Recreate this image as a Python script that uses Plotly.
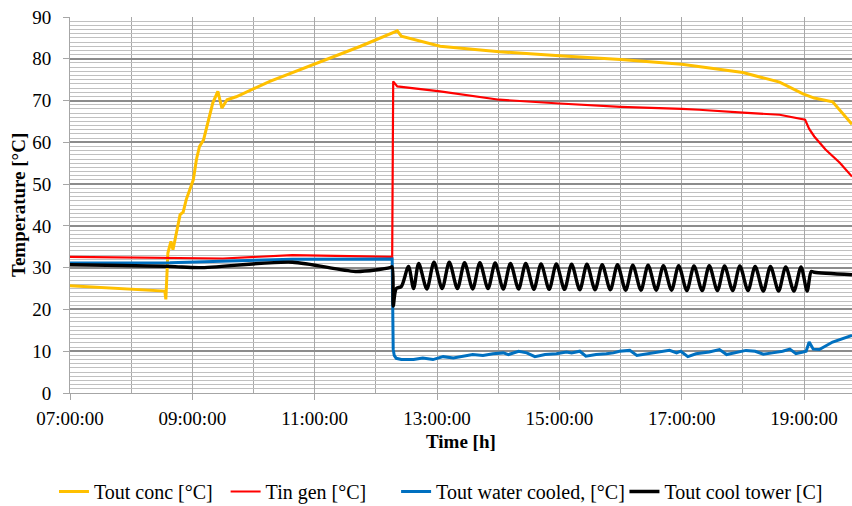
import plotly.graph_objects as go

DAY = "2024-01-01 "

# ---- Tout conc [°C] (yellow)
conc_t = ["07:00", "08:33", "08:34", "08:36", "08:39", "08:41", "08:48", "08:51", "08:54",
          "09:01", "09:04", "09:07", "09:11", "09:16", "09:20", "09:25", "09:29", "09:34",
          "09:43", "10:16", "11:00", "11:45", "12:21", "12:25", "13:03", "14:01", "15:00",
          "16:00", "17:00", "17:17", "18:00", "18:36", "18:59", "19:10", "19:28", "19:47"]
conc_v = [25.7, 24.4, 22.4, 33.5, 36.3, 34.3, 42.7, 43.3, 46.3,
          51.1, 55.9, 59.0, 60.6, 65.4, 69.4, 72.2, 68.2, 70.2,
          70.9, 74.6, 78.7, 83.0, 86.7, 85.4, 83.0, 81.7, 80.7,
          79.8, 78.7, 78.1, 76.7, 74.4, 71.6, 70.6, 69.7, 64.3]

# ---- Tin gen [°C] (red)
gen_t = ["07:00", "08:38", "09:30", "10:38", "11:30", "12:16", "12:17", "12:21", "13:03",
         "14:01", "15:00", "16:00", "17:00", "17:17", "18:00", "18:36", "19:01", "19:05",
         "19:10", "19:21", "19:35", "19:47"]
gen_v = [32.6, 32.3, 32.2, 33.0, 32.7, 32.6, 74.6, 73.4, 72.2,
         70.2, 69.3, 68.5, 68.0, 67.8, 67.1, 66.6, 65.4, 63.2,
         61.4, 58.3, 55.1, 51.8]

# ---- Tout water cooled, [°C] (blue)
wc_t = ["07:00", "08:38", "10:38", "12:14", "12:16", "12:17", "12:18", "12:20", "12:25",
        "12:37", "12:46", "12:56", "13:06", "13:16", "13:26", "13:35", "13:45", "13:55",
        "14:05", "14:10", "14:20", "14:28", "14:36", "14:46", "14:57", "15:07", "15:12",
        "15:20", "15:26", "15:36", "15:46", "15:53", "15:59", "16:09", "16:16", "16:25",
        "16:35", "16:48", "16:55", "16:59", "17:06", "17:14", "17:27", "17:37", "17:44",
        "17:53", "18:03", "18:12", "18:20", "18:29", "18:39", "18:46", "18:52", "18:59",
        "19:02", "19:05", "19:09", "19:15", "19:28", "19:47"]
wc_v = [31.1, 31.2, 32.0, 32.2, 32.1, 10.5, 9.0, 8.3, 8.0,
        8.0, 8.4, 8.0, 8.7, 8.4, 8.8, 9.2, 9.0, 9.4,
        9.6, 9.2, 10.0, 9.6, 8.7, 9.2, 9.4, 9.8, 9.6,
        10.0, 8.8, 9.2, 9.4, 9.6, 10.0, 10.2, 9.0, 9.3,
        9.6, 10.2, 9.6, 10.0, 8.7, 9.4, 9.8, 10.4, 9.2,
        9.6, 10.2, 10.0, 9.3, 9.6, 10.0, 10.5, 9.4, 9.8,
        10.0, 12.2, 10.5, 10.4, 12.2, 13.8]

# ---- Tout cool tower [C] (black)
ct_t = ["07:00", "08:38", "09:07", "10:38", "11:40", "12:14", "12:16", "12:17", "12:20",
        "12:25", "12:32", "12:37", "12:42", "12:50", "12:57", "13:05", "13:12", "13:20",
        "13:27", "13:35", "13:42", "13:50", "13:57", "14:05", "14:12", "14:20", "14:27",
        "14:35", "14:42", "14:50", "14:57", "15:05", "15:12", "15:20", "15:27", "15:35",
        "15:42", "15:50", "15:57", "16:05", "16:12", "16:20", "16:27", "16:35", "16:42",
        "16:50", "16:57", "17:05", "17:12", "17:20", "17:27", "17:35", "17:42", "17:50",
        "17:57", "18:05", "18:12", "18:20", "18:27", "18:35", "18:42", "18:50", "18:57",
        "19:03", "19:07", "19:10", "19:47"]
ct_v = [30.7, 30.3, 30.0, 31.3, 29.1, 30.0, 30.2, 20.8, 25.0,
        25.5, 30.3, 25.0, 31.0, 24.9, 31.3, 25.0, 31.3, 25.0,
        31.2, 24.9, 31.2, 25.0, 31.1, 24.9, 31.0, 24.9, 31.0,
        24.8, 30.9, 24.8, 30.9, 24.8, 30.8, 24.7, 30.8, 24.7,
        30.7, 24.7, 30.7, 24.6, 30.6, 24.6, 30.6, 24.6, 30.5,
        24.6, 30.5, 24.5, 30.4, 24.5, 30.5, 24.5, 30.4, 24.5,
        30.4, 24.5, 30.3, 24.4, 30.3, 24.4, 30.2, 24.4, 30.2,
        24.4, 29.1, 28.9, 28.3]

series_names = ["Tout conc [°C]", "Tin gen [°C]", "Tout water cooled, [°C]", "Tout cool tower [C]"]
series_colors = ["#FFC000", "#FF0000", "#0070C0", "#000000"]
x_title = "Time [h]"
y_title = "Temperature [°C]"


def dt(ts):
    return [DAY + t for t in ts]


FONT = "Liberation Serif"

fig = go.Figure()
fig.add_trace(go.Scatter(x=dt(conc_t), y=conc_v, mode="lines", name=series_names[0],
                         legend="legend",
                         line=dict(color=series_colors[0], width=3)))
fig.add_trace(go.Scatter(x=dt(gen_t), y=gen_v, mode="lines", name=series_names[1],
                         legend="legend2",
                         line=dict(color=series_colors[1], width=2.2)))
fig.add_trace(go.Scatter(x=dt(wc_t), y=wc_v, mode="lines", name=series_names[2],
                         legend="legend3",
                         line=dict(color=series_colors[2], width=3)))
fig.add_trace(go.Scatter(x=dt(ct_t), y=ct_v, mode="lines", name=series_names[3],
                         legend="legend4",
                         line=dict(color=series_colors[3], width=3.4, shape="spline", smoothing=0.8)))


def leg(xpos):
    return dict(orientation="h", x=xpos, xanchor="left", y=-0.262, yanchor="middle",
                font=dict(family=FONT, size=20), itemwidth=30,
                bgcolor="rgba(0,0,0,0)", borderwidth=0)


fig.update_layout(
    width=852, height=506,
    margin=dict(l=70, r=0, t=17, b=113, autoexpand=False),
    paper_bgcolor="white", plot_bgcolor="white",
    font=dict(family=FONT, size=19, color="#000000"),
    showlegend=True,
    legend=leg(-0.0205),
    legend2=leg(0.199),
    legend3=leg(0.417),
    legend4=leg(0.709),
    xaxis=dict(
        type="date",
        range=[DAY + "07:00", DAY + "19:47"],
        tick0=DAY + "07:00", dtick=7200000, tickformat="%H:%M:%S",
        ticks="outside", ticklen=6, tickcolor="#a6a6a6", tickwidth=1,
        ticklabelstandoff=2,
        showgrid=True, gridcolor="#a8a8a8", gridwidth=1,
        minor=dict(tick0=DAY + "07:00", dtick=3600000, showgrid=True,
                   gridcolor="#a8a8a8", gridwidth=1, ticks=""),
        showline=True, linecolor="#a6a6a6", linewidth=1,
        zeroline=False,
        tickfont=dict(family=FONT, size=19),
    ),
    yaxis=dict(
        range=[0, 90], dtick=10, tick0=0,
        ticks="outside", ticklen=6, tickcolor="#a6a6a6", tickwidth=1,
        ticklabelstandoff=8,
        showgrid=True, gridcolor="#8c8c8c", gridwidth=1.5,
        minor=dict(dtick=1, showgrid=True, gridcolor="#c0c0c0", gridwidth=1, ticks=""),
        showline=True, linecolor="#a6a6a6", linewidth=1,
        zeroline=False,
        tickfont=dict(family=FONT, size=19),
    ),
    annotations=[
        dict(text="<b>" + x_title + "</b>", xref="paper", yref="paper", x=0.5, y=-0.128,
             xanchor="center", yanchor="middle", showarrow=False,
             font=dict(family=FONT, size=19)),
        dict(text="<b>" + y_title + "</b>", xref="paper", yref="paper", x=-0.0665, y=0.5,
             xanchor="center", yanchor="middle", showarrow=False, textangle=-90,
             font=dict(family=FONT, size=19)),
    ],
)

fig.write_html("out.html")
